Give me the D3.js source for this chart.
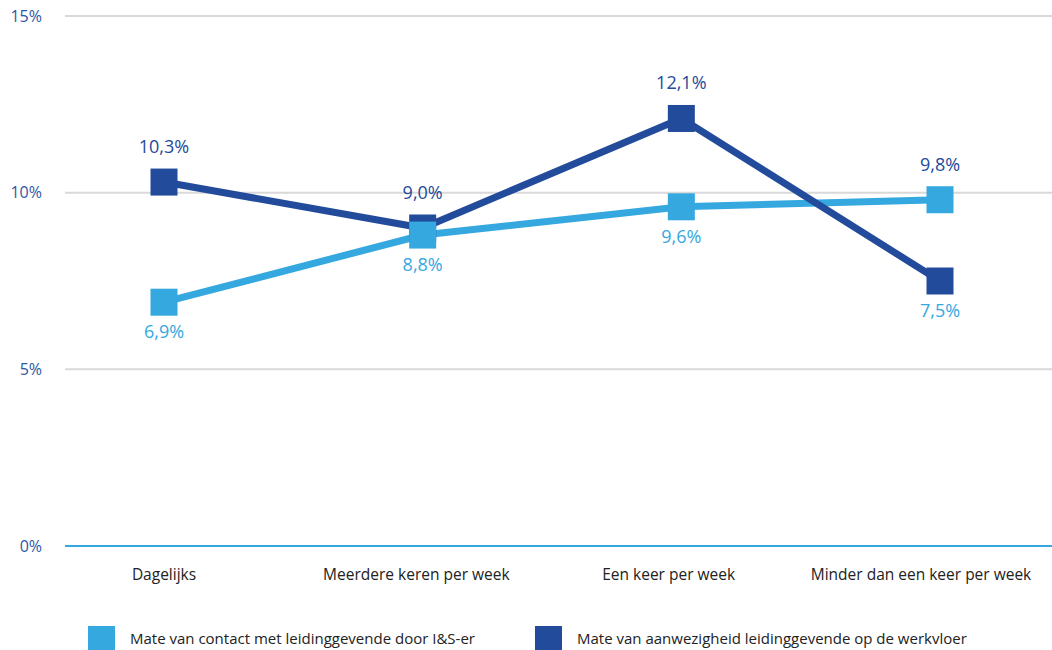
<!DOCTYPE html>
<html>
<head>
<meta charset="utf-8">
<script src="https://cdn.jsdelivr.net/npm/d3@7"></script>
<style>
  body { margin: 0; background: #fff; }
  svg { display: block; font-family: "Open Sans", "Noto Sans", sans-serif; }
</style>
</head>
<body>
<svg id="chart" width="1052" height="650"></svg>
<script>
const categories = ["Dagelijks", "Meerdere keren per week", "Een keer per week", "Minder dan een keer per week"];
const contactValues = [6.9, 8.8, 9.6, 9.8];
const presenceValues = [10.3, 9.0, 12.1, 7.5];
const seriesNames = ["Mate van contact met leidinggevende door I&S-er", "Mate van aanwezigheid leidinggevende op de werkvloer"];
const yTicks = [0, 5, 10, 15];

const colors = { contact: "#35a8e0", presence: "#234b9b", axisText: "#2f56a3" };

const svg = d3.select("#chart");
const x = d3.scalePoint().domain(categories).range([164, 940]);
const xLabel = d3.scalePoint().domain(categories).range([164, 921]);
const y = d3.scaleLinear().domain([0, 15]).range([546, 16]);

const fmt = v => d3.format(".1f")(v).replace(".", ",") + "%";

// horizontal gridlines
svg.append("g").selectAll("line").data(yTicks.filter(t => t > 0)).join("line")
  .attr("x1", 65).attr("x2", 1052)
  .attr("y1", d => y(d)).attr("y2", d => y(d))
  .attr("stroke", "#d9d9d9").attr("stroke-width", 2);

// baseline
svg.append("line").attr("x1", 65).attr("x2", 1052)
  .attr("y1", y(0)).attr("y2", y(0))
  .attr("stroke", colors.contact).attr("stroke-width", 2);

// y-axis labels
svg.append("g").selectAll("text").data(yTicks).join("text")
  .attr("x", 42).attr("y", d => y(d)).attr("dy", "0.35em")
  .attr("text-anchor", "end").attr("font-size", 16)
  .attr("fill", colors.axisText)
  .text(d => d + "%");

// category labels
svg.append("g").selectAll("text").data(categories).join("text")
  .attr("x", d => xLabel(d)).attr("y", 580)
  .attr("text-anchor", "middle").attr("font-size", 15.5)
  .attr("fill", "#222")
  .text(d => d);

const line = d3.line().x(d => x(d.cat)).y(d => y(d.v));
const contactPts = categories.map((c, i) => ({ cat: c, v: contactValues[i], other: presenceValues[i] }));
const presencePts = categories.map((c, i) => ({ cat: c, v: presenceValues[i], other: contactValues[i] }));

svg.append("path").datum(contactPts).attr("d", line)
  .attr("fill", "none").attr("stroke", colors.contact).attr("stroke-width", 7);
svg.append("path").datum(presencePts).attr("d", line)
  .attr("fill", "none").attr("stroke", colors.presence).attr("stroke-width", 7);

const size = 27;
function markers(pts, color) {
  svg.append("g").selectAll("rect").data(pts).join("rect")
    .attr("x", d => x(d.cat) - size / 2).attr("y", d => y(d.v) - size / 2)
    .attr("width", size).attr("height", size).attr("fill", color);
}
markers(presencePts, colors.presence);
markers(contactPts, colors.contact);

// value labels: the upper label of each pair sits above its marker in dark blue,
// the lower one sits below its marker in light blue
function labels(pts) {
  svg.append("g").selectAll("text").data(pts).join("text")
    .attr("x", d => x(d.cat))
    .attr("y", d => d.v >= d.other ? y(d.v) - 29 : y(d.v) + 36)
    .attr("text-anchor", "middle").attr("font-size", 18)
    .attr("fill", d => d.v >= d.other ? colors.presence : colors.contact)
    .text(d => fmt(d.v));
}
labels(presencePts);
labels(contactPts);

// legend
const legend = [
  { name: seriesNames[0], color: colors.contact, x: 88 },
  { name: seriesNames[1], color: colors.presence, x: 535 }
];
const lg = svg.append("g").selectAll("g").data(legend).join("g")
  .attr("transform", d => `translate(${d.x},626)`);
lg.append("rect").attr("width", 27).attr("height", 24).attr("fill", d => d.color);
lg.append("text").attr("x", 42).attr("y", 18).attr("font-size", 15)
  .attr("fill", "#222").text(d => d.name);
</script>
</body>
</html>
